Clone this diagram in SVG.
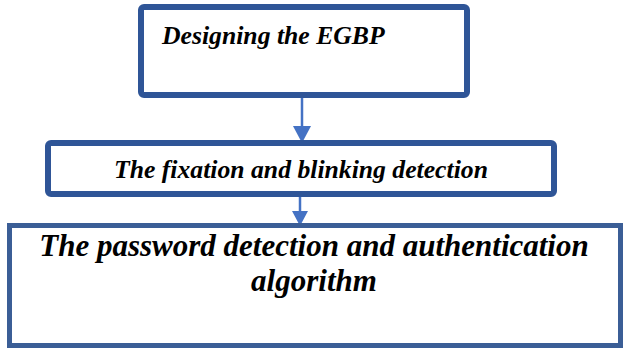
<svg xmlns="http://www.w3.org/2000/svg" width="624" height="349" viewBox="0 0 624 349">
  <defs>
    <style>
      .box { fill: #ffffff; stroke: #2f5597; stroke-width: 6; }
      .box3 { fill: #ffffff; stroke: #3b5e96; stroke-width: 5; }
      .link { stroke: #4472c4; stroke-width: 2.5; fill: none; }
      .head { fill: #4472c4; }
    </style>
  </defs>
  <rect width="624" height="349" fill="#ffffff"/>

  <g id="connectors">
    <line class="link" x1="302" y1="98" x2="302" y2="128"/>
    <polygon class="head" points="293,126 311,126 302,143"/>
    <line class="link" x1="300" y1="197" x2="300" y2="213"/>
    <polygon class="head" points="292,211 308,211 300,226"/>
  </g>

  <g font-family="Liberation Serif, Times New Roman, serif" font-weight="bold" font-style="italic" fill="#000000">
    <g id="node-egbp">
      <rect class="box" x="141" y="7" width="326" height="88" rx="3"/>
      <text x="162" y="44" font-size="25.7">Designing the EGBP</text>
    </g>

    <g id="node-fixation">
      <rect class="box" x="48" y="143" width="506" height="51" rx="3"/>
      <text x="114" y="178" font-size="25.7">The fixation and blinking detection</text>
    </g>

    <g id="node-password">
      <rect class="box3" x="9.5" y="225.5" width="611" height="120"/>
      <text x="314" y="256" font-size="31" text-anchor="middle">The password detection and authentication</text>
      <text x="314" y="291" font-size="31" text-anchor="middle">algorithm</text>
    </g>
  </g>
</svg>
